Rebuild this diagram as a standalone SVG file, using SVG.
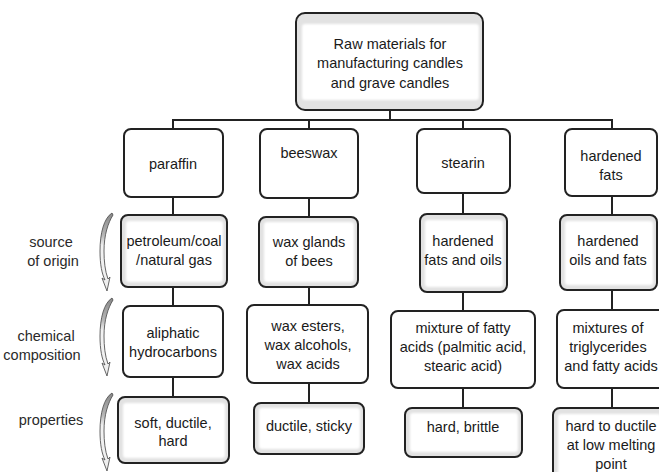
<svg xmlns="http://www.w3.org/2000/svg" width="659" height="472" viewBox="0 0 659 472">
<style>
.box{fill:#fff;stroke:#222;stroke-width:2}
.sh{fill:#e2e2e2;stroke:#222;stroke-width:2}
.in{fill:#fff;filter:url(#soft)}
text{font-family:"Liberation Sans",Arial,Helvetica,sans-serif;font-size:14.5px;fill:#1a1a1a;text-anchor:middle}
.lbl{fill:#2a2a2a}
#connectors line{stroke:#222;stroke-width:2}
.curl{fill:url(#cg);stroke:#555;stroke-width:0.9}
</style>
<defs>
<filter id="soft" x="-10%" y="-10%" width="120%" height="120%"><feGaussianBlur stdDeviation="1.3"/></filter>
<linearGradient id="cg" x1="0" y1="0" x2="0" y2="1">
<stop offset="0" stop-color="#888"/>
<stop offset="0.28" stop-color="#b5b5b5"/>
<stop offset="0.42" stop-color="#f2f2f2"/>
<stop offset="1" stop-color="#eeeeee"/>
</linearGradient>
<path id="curl" class="curl" d="M112,0 C104,5 100,20 100,38 C100,52 102,61 105,67 L102,65 L107,78 L110,64 L108,66 C105,58 104,48 104,38 C104,22 108,10 113,2 Z"/>
</defs>
<rect width="659" height="472" fill="#fff"/>
<g id="connectors">
<line x1="173" y1="120" x2="612" y2="120"/>
<line x1="390" y1="110" x2="390" y2="120"/>
<line x1="173" y1="119" x2="173" y2="129"/>
<line x1="309" y1="119" x2="309" y2="129"/>
<line x1="463" y1="119" x2="463" y2="129"/>
<line x1="612" y1="119" x2="612" y2="129"/>
<line x1="173" y1="197" x2="173" y2="215"/>
<line x1="173" y1="287" x2="173" y2="306"/>
<line x1="173" y1="377" x2="173" y2="397"/>
<line x1="309" y1="198" x2="309" y2="217"/>
<line x1="309" y1="287" x2="309" y2="305"/>
<line x1="309" y1="383" x2="309" y2="403"/>
<line x1="463" y1="193" x2="463" y2="214"/>
<line x1="463" y1="292" x2="463" y2="311"/>
<line x1="463" y1="388" x2="463" y2="408"/>
<line x1="612" y1="196" x2="612" y2="215"/>
<line x1="612" y1="290" x2="612" y2="310"/>
<line x1="612" y1="388" x2="612" y2="408"/>
</g>
<g id="root">
<rect class="sh" x="296" y="13" width="187" height="97" rx="9"/>
<rect class="in" x="302" y="24" width="177" height="76" rx="3"/>
<text x="390" y="48.5">Raw materials for</text>
<text x="390" y="68">manufacturing candles</text>
<text x="390" y="87.5">and grave candles</text>
</g>
<g id="paraffin"><rect class="box" x="124" y="129" width="99" height="68" rx="7"/><text x="173" y="168.5">paraffin</text></g>
<g id="beeswax"><rect class="box" x="260" y="129" width="98" height="69" rx="7"/><text x="309" y="158">beeswax</text></g>
<g id="stearin"><rect class="box" x="417" y="129" width="93" height="64" rx="7"/><text x="463" y="168">stearin</text></g>
<g id="hardened-fats"><rect class="box" x="565" y="129" width="92" height="67" rx="7"/><text x="611" y="161">hardened</text><text x="611" y="180">fats</text></g>
<g id="src-paraffin"><rect class="sh" x="121" y="215" width="106" height="72" rx="7"/><rect class="in" x="126" y="221" width="97" height="61" rx="3"/><text x="174" y="245.5">petroleum/coal</text><text x="174" y="265">/natural gas</text></g>
<g id="src-beeswax"><rect class="sh" x="259" y="217" width="99" height="70" rx="7"/><rect class="in" x="264" y="222" width="90" height="60" rx="3"/><text x="309" y="247">wax glands</text><text x="309" y="265.5">of bees</text></g>
<g id="src-stearin"><rect class="sh" x="420" y="214" width="87" height="78" rx="7"/><rect class="in" x="425" y="220" width="78" height="67" rx="3"/><text x="463" y="246">hardened</text><text x="463" y="264.5">fats and oils</text></g>
<g id="src-hardened"><rect class="sh" x="560" y="215" width="97" height="75" rx="7"/><rect class="in" x="565" y="221" width="88" height="64" rx="3"/><text x="608" y="246">hardened</text><text x="608" y="264.5">oils and fats</text></g>
<g id="chem-paraffin"><rect class="box" x="123" y="306" width="100" height="71" rx="7"/><text x="173" y="338">aliphatic</text><text x="173" y="357">hydrocarbons</text></g>
<g id="chem-beeswax"><rect class="box" x="247" y="305" width="121" height="78" rx="7"/><text x="308" y="331">wax esters,</text><text x="308" y="350">wax alcohols,</text><text x="308" y="369">wax acids</text></g>
<g id="chem-stearin"><rect class="box" x="391" y="311" width="144" height="77" rx="7"/><text x="463" y="333">mixture of fatty</text><text x="463" y="352">acids (palmitic acid,</text><text x="463" y="371">stearic acid)</text></g>
<g id="chem-hardened"><rect class="box" x="557" y="310" width="110" height="78" rx="7"/><text x="608" y="333">mixtures of</text><text x="608" y="352">triglycerides</text><text x="611" y="371">and fatty acids</text></g>
<g id="prop-paraffin"><rect class="sh" x="118" y="397" width="111" height="66" rx="7"/><rect class="in" x="123" y="403" width="102" height="55" rx="3"/><text x="173" y="428">soft, ductile,</text><text x="173" y="446">hard</text></g>
<g id="prop-beeswax"><rect class="sh" x="254" y="403" width="110" height="51" rx="7"/><rect class="in" x="259" y="408" width="101" height="41" rx="3"/><text x="309" y="431">ductile, sticky</text></g>
<g id="prop-stearin"><rect class="sh" x="405" y="408" width="117" height="49" rx="7"/><rect class="in" x="410" y="413" width="108" height="39" rx="3"/><text x="463" y="432">hard, brittle</text></g>
<g id="prop-hardened"><rect class="sh" x="553" y="408" width="112" height="80" rx="7"/><rect class="in" x="558" y="414" width="103" height="70" rx="3"/><text x="611" y="431">hard to ductile</text><text x="611" y="450">at low melting</text><text x="611" y="469">point</text></g>
<g id="label-source"><text class="lbl" x="51" y="247">source</text><text class="lbl" x="53" y="266">of origin</text><use href="#curl" x="0" y="213"/></g>
<g id="label-chemical"><text class="lbl" x="46" y="341">chemical</text><text class="lbl" x="42" y="360">composition</text><use href="#curl" x="0" y="298"/></g>
<g id="label-properties"><text class="lbl" x="51" y="425">properties</text><use href="#curl" x="0" y="393"/></g>
</svg>
